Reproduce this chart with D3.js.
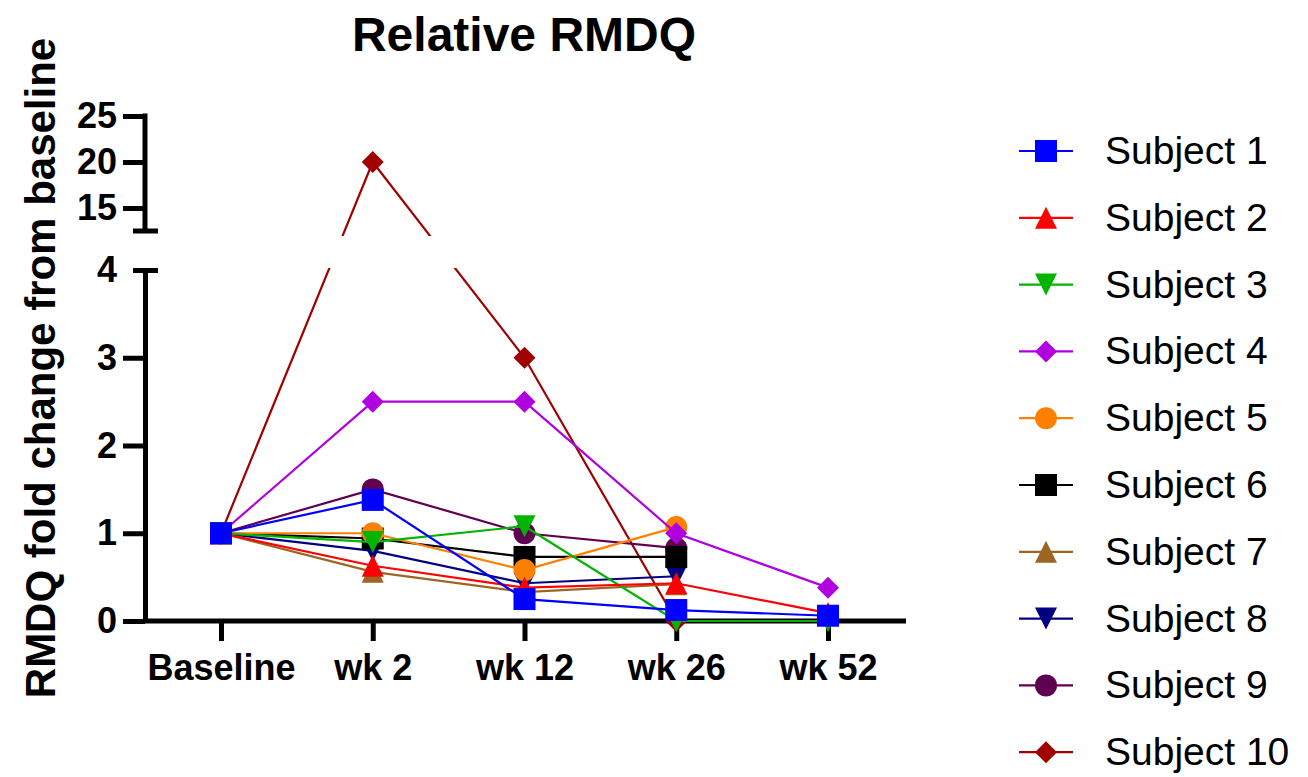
<!DOCTYPE html>
<html lang="en">
<head>
    <meta charset="UTF-8">
    <title>Relative RMDQ</title>
    <style>
        body{
            margin: 0;
            background: #fff;
        }
        text{
            font-family: "Liberation Sans", Arial, sans-serif;
        }
        .axis path,
        .axis line {
            fill: none;
            stroke: #000;
            stroke-width: 5;
        }
        .axis text{
            font-size: 36px;
            font-weight: bold;
            fill: #000;
        }
    </style>
</head>
<body>
    <svg width="1308" height="777"></svg>
    <script src="https://d3js.org/d3.v7.min.js"></script>
    <script>
        // timepoints and tick labels
        var timepoints = ["Baseline", "wk 2", "wk 12", "wk 26", "wk 52"];
        var lowTicks = [0, 1, 2, 3, 4];
        var highTicks = [15, 20, 25];

        var subjects = ["Subject 1", "Subject 2", "Subject 3", "Subject 4", "Subject 5",
                        "Subject 6", "Subject 7", "Subject 8", "Subject 9", "Subject 10"];

        // fold change per subject, one value per timepoint (null = no visit)
        var s1  = [1, 1.38, 0.25, 0.125, 0.06];
        var s2  = [1, 0.63, 0.38, 0.43, 0.09];
        var s3  = [1, 0.9, 1.08, 0, 0];
        var s4  = [1, 2.5, 2.5, 1.0, 0.38];
        var s5  = [1, 1.0, 0.58, 1.07, null];
        var s6  = [1, 0.94, 0.73, 0.73, null];
        var s7  = [1, 0.56, 0.33, 0.42, null];
        var s8  = [1, 0.8, 0.43, 0.51, null];
        var s9  = [1, 1.5, 1.0, 0.83, null];
        var s10 = [1, 20, 3, 0, null];
        var values = [s1, s2, s3, s4, s5, s6, s7, s8, s9, s10];

        var colors = ["#0000ff", "#ff0000", "#00b400", "#b000e0", "#ff8000",
                      "#000000", "#9c6622", "#000080", "#600050", "#a00000"];
        var shapes = ["square", "up", "down", "diamond", "circle",
                      "square", "up", "down", "circle", "diamond"];

        var svg = d3.select("svg");

        var x = d3.scalePoint().domain(timepoints).range([221, 828]);
        var yLow = d3.scaleLinear().domain([0, 4]).range([621, 270]);
        var yHigh = d3.scaleLinear().domain([12.5, 25]).range([231, 116]);
        // broken axis: piecewise scale across the gap
        var y = d3.scaleLinear().domain([0, 4, 12.5, 25]).range([621, 270, 231, 116]);

        // marker shapes, all about 22px across
        var half = 11;
        var symbols = {
            square: {draw: function(c){ c.rect(-half, -half, 2*half, 2*half); }},
            up: {draw: function(c){ c.moveTo(0, -half); c.lineTo(half, half); c.lineTo(-half, half); c.closePath(); }},
            down: {draw: function(c){ c.moveTo(0, half); c.lineTo(half, -half); c.lineTo(-half, -half); c.closePath(); }},
            diamond: {draw: function(c){ c.moveTo(0, -half); c.lineTo(half, 0); c.lineTo(0, half); c.lineTo(-half, 0); c.closePath(); }},
            circle: {draw: function(c){ c.moveTo(half, 0); c.arc(0, 0, half, 0, 2*Math.PI); }}
        };
        function marker(shape){ return d3.symbol().type(symbols[shape]).size(1)(); }

        // title
        svg.append("text")
            .attr("x", 524)
            .attr("y", 51)
            .attr("text-anchor", "middle")
            .style("font-size", "48px")
            .style("font-weight", "bold")
            .text("Relative RMDQ");

        // y label
        svg.append("text")
            .attr("transform", "translate(55,368) rotate(-90)")
            .attr("text-anchor", "middle")
            .style("font-size", "42px")
            .style("font-weight", "bold")
            .text("RMDQ fold change from baseline");

        // y axis lower segment
        var axLow = svg.append("g")
            .attr("class", "axis")
            .attr("transform", "translate(145,0)")
            .call(d3.axisLeft(yLow).tickValues(lowTicks).tickFormat(d3.format("d"))
                .tickSize(22).tickSizeOuter(0).tickPadding(6));
        axLow.selectAll(".tick").filter(function(d){ return d === 4; }).select("line")
            .attr("x1", -12).attr("x2", 13);

        // y axis upper segment
        var axHigh = svg.append("g")
            .attr("class", "axis")
            .attr("transform", "translate(145,0)")
            .call(d3.axisLeft(yHigh).tickValues(highTicks).tickFormat(d3.format("d"))
                .tickSize(22).tickSizeOuter(0).tickPadding(6));
        axHigh.append("line")
            .attr("x1", -12).attr("x2", 13)
            .attr("y1", yHigh(12.5)).attr("y2", yHigh(12.5));
        axHigh.select(".domain").attr("d", "M0," + yHigh(12.5) + "V" + (yHigh(25) - 2.5));

        // x axis
        var axX = svg.append("g")
            .attr("class", "axis")
            .attr("transform", "translate(0," + yLow(0) + ")")
            .call(d3.axisBottom(x).tickSize(20).tickSizeOuter(0));
        axX.select(".domain").attr("d", "M145,0H906");
        axX.selectAll(".tick text").attr("y", 59).attr("dy", 0);

        // clip lines in the axis break
        var defs = svg.append("defs");
        var clip = defs.append("clipPath").attr("id", "brk");
        clip.append("rect").attr("x", 0).attr("y", 0).attr("width", 1308).attr("height", 236);
        clip.append("rect").attr("x", 0).attr("y", 268).attr("width", 1308).attr("height", 509);

        var line = d3.line()
            .defined(function(d){ return d.v !== null; })
            .x(function(d){ return x(d.t); })
            .y(function(d){ return y(d.v); });

        var plot = svg.append("g");

        // last subject at the bottom, subject 1 on top
        for (var i = subjects.length - 1; i >= 0; i--) {
            var pts = timepoints.map(function(t, j){ return {t: t, v: values[i][j]}; });
            var g = plot.append("g");
            g.append("path")
                .datum(pts)
                .attr("clip-path", "url(#brk)")
                .attr("fill", "none")
                .attr("stroke", colors[i])
                .attr("stroke-width", 2.2)
                .attr("d", line);
            g.selectAll(".pt")
                .data(pts.filter(function(d){ return d.v !== null; }))
                .enter().append("path")
                .attr("class", "pt")
                .attr("d", marker(shapes[i]))
                .attr("transform", function(d){ return "translate(" + x(d.t) + "," + y(d.v) + ")"; })
                .attr("fill", colors[i]);
        }

        // legend
        var legend = svg.selectAll(".legend")
            .data(subjects)
            .enter().append("g")
            .attr("class", "legend")
            .attr("transform", function(d, i){ return "translate(1046," + (151 + i * 66.8) + ")"; });

        legend.append("line")
            .attr("x1", -27).attr("x2", 27)
            .attr("stroke", function(d, i){ return colors[i]; })
            .attr("stroke-width", 2.2);

        legend.append("path")
            .attr("d", function(d, i){ return marker(shapes[i]); })
            .attr("fill", function(d, i){ return colors[i]; });

        legend.append("text")
            .attr("x", 59)
            .attr("y", 13)
            .style("font-size", "39px")
            .text(function(d){ return d; });
    </script>
</body>
</html>
